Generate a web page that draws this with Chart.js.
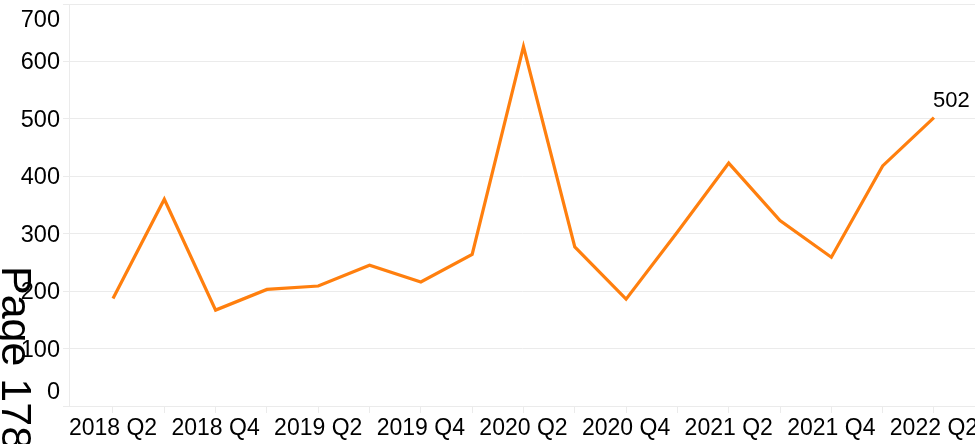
<!DOCTYPE html>
<html>
<head>
<meta charset="utf-8">
<script src="https://cdn.jsdelivr.net/npm/chart.js@4"></script>
<style>
  body { margin: 0; background: #fff; }
</style>
</head>
<body>
<canvas id="chart" width="975" height="444"></canvas>
<script>
const quarters = ['2018 Q2', '2018 Q3', '2018 Q4', '2019 Q1', '2019 Q2', '2019 Q3', '2019 Q4',
    '2020 Q1', '2020 Q2', '2020 Q3', '2020 Q4', '2021 Q1', '2021 Q2', '2021 Q3', '2021 Q4',
    '2022 Q1', '2022 Q2'];
const counts = [187, 360, 167, 203, 209, 245, 216, 264, 626, 277, 186, 303, 423, 323, 259, 418, 502];
const yTicks = [0, 100, 200, 300, 400, 500, 600, 700];
const sideText = 'Page 178';

const FONT = "'Liberation Sans', Arial, sans-serif";
const GRID = '#ebebeb';

// y labels drawn by hand so the top and bottom ones can be pulled inside the plot
const yLabels = {
    id: 'yLabels',
    afterDraw(chart) {
        const ctx = chart.ctx;
        const y = chart.scales.y;
        const area = chart.chartArea;
        ctx.save();
        ctx.font = '23.5px ' + FONT;
        ctx.fillStyle = '#000';
        ctx.textAlign = 'right';
        ctx.textBaseline = 'middle';
        yTicks.forEach(v => {
            let py = y.getPixelForValue(v) + 1.5;
            py = Math.max(py, area.top + 17);
            py = Math.min(py, area.bottom - 13);
            ctx.fillText(String(v), area.left - 9, py);
        });
        ctx.restore();
    }
};

// value of the last point
const lastLabel = {
    id: 'lastLabel',
    afterDatasetsDraw(chart) {
        const ctx = chart.ctx;
        const meta = chart.getDatasetMeta(0);
        const p = meta.data[meta.data.length - 1];
        ctx.save();
        ctx.font = '22px ' + FONT;
        ctx.fillStyle = '#000';
        ctx.textAlign = 'left';
        ctx.textBaseline = 'alphabetic';
        ctx.fillText(String(counts[counts.length - 1]), p.x - 1, p.y - 11);
        ctx.restore();
    }
};

// the rotated page number sitting over the left edge
const pageText = {
    id: 'pageText',
    afterDraw(chart) {
        const ctx = chart.ctx;
        ctx.save();
        ctx.translate(2, 266);
        ctx.rotate(Math.PI / 2);
        ctx.font = '43px ' + FONT;
        ctx.fillStyle = '#000';
        ctx.textAlign = 'left';
        ctx.textBaseline = 'alphabetic';
        ctx.fillText(sideText, 0, 0);
        ctx.restore();
    }
};

const ctx = document.getElementById('chart').getContext('2d');
const myChart = new Chart(ctx, {
    type: 'line',
    data: {
        datasets: [{
            data: counts.map((v, i) => ({ x: i, y: v })),
            borderColor: '#ff7f0e',
            borderWidth: 3.2,
            pointRadius: 0,
            fill: false,
            tension: 0
        }]
    },
    options: {
        responsive: false,
        animation: false,
        devicePixelRatio: 1,
        layout: { padding: { top: 4, right: 0, bottom: 0, left: 0 } },
        plugins: {
            legend: { display: false },
            tooltip: { enabled: false }
        },
        scales: {
            x: {
                type: 'linear',
                min: -0.8575,
                max: 16.8,
                afterBuildTicks: s => { s.ticks = quarters.map((q, i) => ({ value: i })); },
                afterFit: s => { s.height = 38; s.paddingLeft = 0; s.paddingRight = 0; },
                ticks: {
                    autoSkip: false,
                    maxRotation: 0,
                    minRotation: 0,
                    padding: 2,
                    color: '#000',
                    font: { family: FONT, size: 23 },
                    callback: v => (v % 2 === 0 ? quarters[v] : '')
                },
                grid: { drawOnChartArea: false, drawTicks: true, tickLength: 7, color: GRID },
                border: { color: GRID }
            },
            y: {
                min: 0,
                max: 700,
                afterBuildTicks: s => { s.ticks = yTicks.map(v => ({ value: v })); },
                afterFit: s => { s.width = 69; },
                ticks: { display: false },
                grid: { color: GRID, tickLength: 6 },
                border: { color: GRID }
            }
        }
    },
    plugins: [yLabels, lastLabel, pageText]
});
</script>
</body>
</html>
